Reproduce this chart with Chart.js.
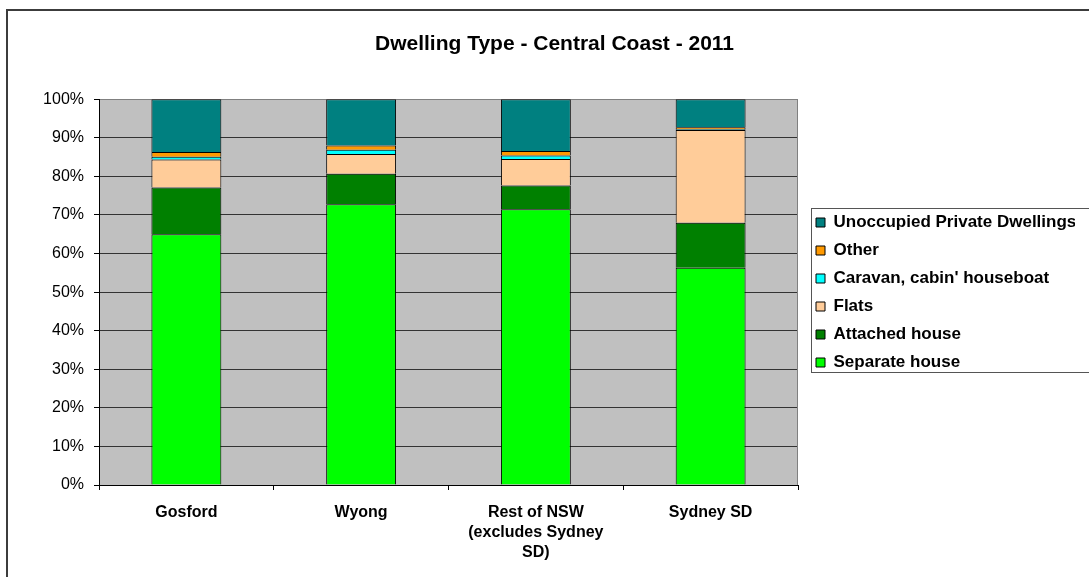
<!DOCTYPE html>
<html>
<head>
<meta charset="utf-8">
<title>Dwelling Type - Central Coast - 2011</title>
<script src="https://cdn.jsdelivr.net/npm/chart.js@4.4.1/dist/chart.umd.min.js"></script>
<style>
  html, body { margin: 0; padding: 0; background: #fff; overflow: hidden; }
  #frame { position: absolute; left: 6px; top: 9px; width: 1200px; height: 700px; border: 2px solid #3c3c3c; }
  #wrap { position: absolute; left: 0; top: 0; width: 1089px; height: 577px; }
</style>
</head>
<body>
<div id="frame"></div>
<div id="wrap"><canvas id="chart"></canvas></div>
<script>
// categories (multi-line labels as in the original)
const regions = [['Gosford'], ['Wyong'], ['Rest of NSW', '(excludes Sydney', 'SD)'], ['Sydney SD']];

// share of dwellings, %
const separateHouse = [65.0, 72.8, 71.5, 56.3];
const attachedHouse = [12.1, 7.9, 6.1, 11.7];
const flats = [7.3, 5.1, 6.9, 24.0];
const caravan = [0.7, 1.1, 0.9, 0.2];
const other = [1.2, 1.1, 1.2, 0.5];
const unoccupied = [13.7, 12.0, 13.4, 7.3];

const yTicks = [0, 10, 20, 30, 40, 50, 60, 70, 80, 90, 100];

Chart.defaults.font.family = "'Liberation Sans', Arial, sans-serif";
Chart.defaults.color = '#000';

// grey plot area like the excel chart
const plotArea = {
  id: 'plotArea',
  beforeDraw(chart) {
    const { ctx, chartArea: a } = chart;
    ctx.save();
    ctx.fillStyle = '#c0c0c0';
    ctx.fillRect(a.left, a.top, a.right - a.left, a.bottom - a.top);
    ctx.restore();
  },
  afterDraw(chart) {
    const { ctx, chartArea: a } = chart;
    ctx.save();
    ctx.strokeStyle = '#808080';
    ctx.lineWidth = 1;
    ctx.beginPath();
    ctx.moveTo(a.right - 0.5, a.top);
    ctx.lineTo(a.right - 0.5, a.bottom);
    ctx.stroke();
    ctx.restore();
  },
};

// nudge legend away from the plot, center title over the whole frame
const tweakLayout = {
  id: 'tweakLayout',
  afterLayout(chart) {
    chart.legend.left += 7;
    chart.legend.right += 7;
    chart.legend.top += 4;
    chart.legend.bottom += 4;
    chart.titleBlock.left = 7;
    chart.titleBlock.right = 1102;
  },
};

// box round the legend (runs off the right edge like the original)
const legendFrame = {
  id: 'legendFrame',
  afterDraw(chart) {
    const boxes = chart.legend.legendHitBoxes;
    if (!boxes || !boxes.length) return;
    const first = boxes[0];
    const last = boxes[boxes.length - 1];
    const c0 = first.top + first.height / 2;
    const c1 = last.top + last.height / 2;
    const ctx = chart.ctx;
    ctx.save();
    ctx.strokeStyle = '#555';
    ctx.lineWidth = 1;
    ctx.strokeRect(Math.round(first.left) - 4.5, Math.round(c0) - 14.5, 400, Math.round(c1 - c0) + 24);
    ctx.restore();
  },
};

const mkSet = (label, data, color) => ({
  label,
  data,
  backgroundColor: color,
  borderColor: '#000',
  borderWidth: 1,
});

new Chart(document.getElementById('chart'), {
  type: 'bar',
  data: {
    labels: regions,
    datasets: [
      mkSet('Separate house', separateHouse, '#00ff00'),
      mkSet('Attached house', attachedHouse, '#008000'),
      mkSet('Flats', flats, '#ffcc99'),
      mkSet("Caravan, cabin' houseboat", caravan, '#00ffff'),
      mkSet('Other', other, '#ff9900'),
      mkSet('Unoccupied Private Dwellings', unoccupied, '#008080'),
    ],
  },
  options: {
    responsive: true,
    maintainAspectRatio: false,
    animation: false,
    devicePixelRatio: 1,
    barPercentage: 0.4,
    categoryPercentage: 1.0,
    layout: { padding: { left: 0, right: 21, top: 0, bottom: 0 } },
    plugins: {
      title: {
        display: true,
        text: 'Dwelling Type - Central Coast - 2011',
        font: { size: 21, weight: 'bold', lineHeight: 1.2 },
        color: '#000',
        padding: { top: 32, bottom: 42 },
      },
      legend: {
        position: 'right',
        reverse: true,
        maxWidth: 270,
        labels: {
          boxWidth: 9,
          boxHeight: 9,
          padding: 11,
          color: '#000',
          font: { size: 17, weight: 'bold' },
        },
      },
      tooltip: { enabled: false },
    },
    scales: {
      x: {
        stacked: true,
        afterFit: (s) => { s.height = 92; },
        grid: { drawOnChartArea: false, drawTicks: true, tickLength: 5, color: '#000' },
        border: { color: '#000', width: 1 },
        ticks: {
          autoSkip: false,
          maxRotation: 0,
          padding: 13,
          color: '#000',
          font: { size: 16, weight: 'bold', lineHeight: 1.25 },
        },
      },
      y: {
        stacked: true,
        min: 0,
        max: 100,
        afterFit: (s) => { s.width = 99; },
        afterBuildTicks: (s) => { s.ticks = yTicks.map((v) => ({ value: v })); },
        grid: {
          color: (c) => (c.tick && c.tick.value === 100 ? '#808080' : '#333'),
          tickColor: '#000',
          tickLength: 5,
        },
        border: { color: '#000', width: 1 },
        ticks: {
          padding: 10,
          color: '#000',
          font: { size: 16 },
          callback: (v) => v + '%',
        },
      },
    },
  },
  plugins: [plotArea, tweakLayout, legendFrame],
});
</script>
</body>
</html>
